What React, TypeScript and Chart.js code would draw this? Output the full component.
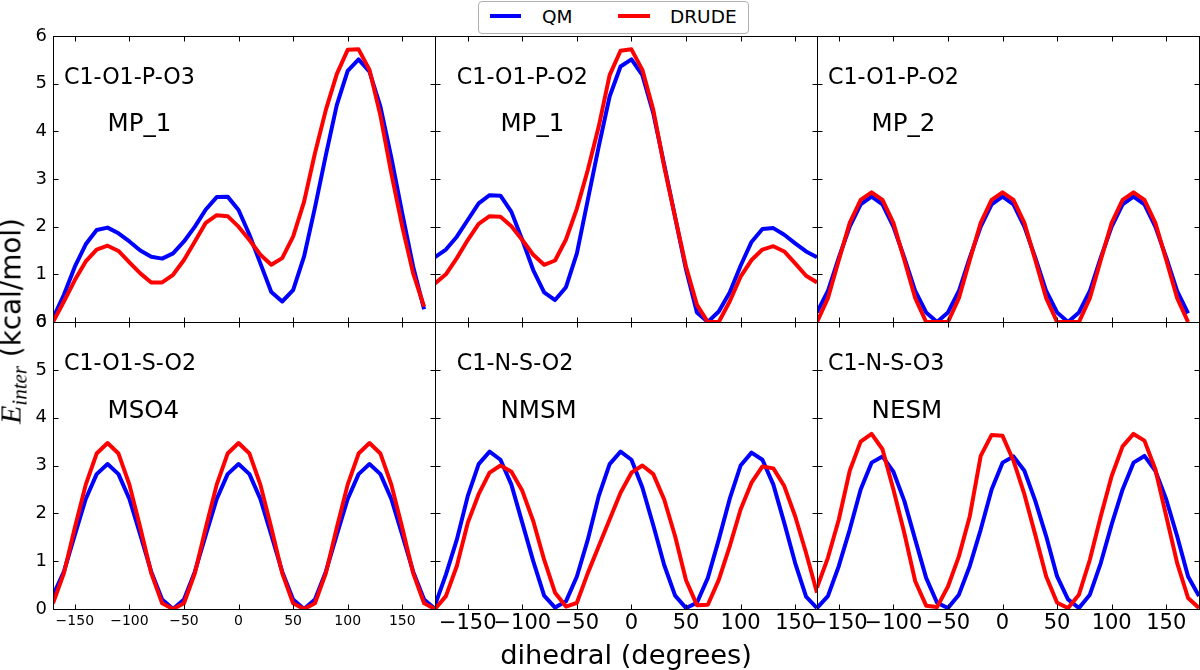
import React, { useEffect, useRef } from 'react';
import { Chart, registerables } from 'chart.js';

Chart.register(...registerables);

// ---------- data ----------
const anglesTo170 = [-170, -160, -150, -140, -130, -120, -110, -100, -90, -80, -70, -60, -50, -40, -30, -20, -10, 0, 10, 20, 30, 40, 50, 60, 70, 80, 90, 100, 110, 120, 130, 140, 150, 160, 170];
const anglesFromMinus180 = [-180, -170, -160, -150, -140, -130, -120, -110, -100, -90, -80, -70, -60, -50, -40, -30, -20, -10, 0, 10, 20, 30, 40, 50, 60, 70, 80, 90, 100, 110, 120, 130, 140, 150, 160, 170];
const anglesTo180 = [-170, -160, -150, -140, -130, -120, -110, -100, -90, -80, -70, -60, -50, -40, -30, -20, -10, 0, 10, 20, 30, 40, 50, 60, 70, 80, 90, 100, 110, 120, 130, 140, 150, 160, 170, 180];

const xTickValues = [-150, -100, -50, 0, 50, 100, 150];
const yTickValues = [0, 1, 2, 3, 4, 5, 6];

// C1-O1-P-O3, MP_1
const mp1O3QM = [0.08, 0.57, 1.16, 1.63, 1.93, 1.98, 1.86, 1.69, 1.5, 1.37, 1.33, 1.44, 1.69, 2.0, 2.36, 2.62, 2.63, 2.35, 1.83, 1.23, 0.63, 0.43, 0.67, 1.37, 2.4, 3.5, 4.55, 5.27, 5.51, 5.25, 4.52, 3.45, 2.28, 1.16, 0.27];
const mp1O3Drude = [0.0, 0.43, 0.88, 1.27, 1.52, 1.6, 1.49, 1.25, 1.02, 0.83, 0.83, 0.99, 1.3, 1.69, 2.08, 2.24, 2.22, 2.0, 1.72, 1.41, 1.2, 1.34, 1.79, 2.52, 3.54, 4.45, 5.2, 5.71, 5.72, 5.29, 4.33, 3.12, 2.0, 1.02, 0.32];

// C1-O1-P-O2, MP_1
const mp1O2QM = [1.36, 1.52, 1.79, 2.14, 2.49, 2.66, 2.65, 2.31, 1.72, 1.09, 0.62, 0.46, 0.73, 1.44, 2.56, 3.68, 4.73, 5.36, 5.51, 5.18, 4.38, 3.3, 2.2, 1.1, 0.2, 0.0, 0.22, 0.62, 1.18, 1.68, 1.95, 1.97, 1.83, 1.65, 1.48, 1.36];
const mp1O2Drude = [0.81, 1.0, 1.34, 1.72, 2.06, 2.22, 2.21, 2.01, 1.72, 1.41, 1.2, 1.29, 1.73, 2.38, 3.19, 4.1, 5.18, 5.69, 5.72, 5.29, 4.45, 3.26, 2.2, 1.16, 0.36, 0.0, 0.0, 0.43, 0.95, 1.3, 1.52, 1.59, 1.48, 1.23, 0.97, 0.83];

// C1-O1-P-O2, MP_2
const mp2QM = [0.2, 0.65, 1.35, 2.0, 2.47, 2.63, 2.47, 2.0, 1.35, 0.65, 0.2, 0.0, 0.2, 0.65, 1.35, 2.0, 2.47, 2.63, 2.47, 2.0, 1.35, 0.65, 0.2, 0.0, 0.2, 0.65, 1.35, 2.0, 2.47, 2.63, 2.47, 2.0, 1.35, 0.65, 0.18];
const mp2Drude = [0.0, 0.5, 1.3, 2.08, 2.56, 2.72, 2.56, 2.08, 1.3, 0.5, 0.0, 0.0, 0.0, 0.5, 1.3, 2.08, 2.56, 2.72, 2.56, 2.08, 1.3, 0.5, 0.0, 0.0, 0.0, 0.5, 1.3, 2.08, 2.56, 2.72, 2.56, 2.08, 1.3, 0.5, 0.0];

// C1-O1-S-O2, MSO4
const mso4QM = [0.28, 0.78, 1.55, 2.3, 2.82, 3.03, 2.82, 2.3, 1.55, 0.78, 0.2, 0.0, 0.2, 0.78, 1.55, 2.3, 2.82, 3.03, 2.82, 2.3, 1.55, 0.78, 0.2, 0.0, 0.2, 0.78, 1.55, 2.3, 2.82, 3.03, 2.82, 2.3, 1.55, 0.78, 0.2, 0.0];
const mso4Drude = [0.12, 0.75, 1.7, 2.6, 3.25, 3.47, 3.25, 2.6, 1.7, 0.75, 0.12, 0.0, 0.12, 0.75, 1.7, 2.6, 3.25, 3.47, 3.25, 2.6, 1.7, 0.75, 0.12, 0.0, 0.12, 0.75, 1.7, 2.6, 3.25, 3.47, 3.25, 2.6, 1.7, 0.75, 0.12, 0.0];

// C1-N-S-O2, NMSM
const nmsmQM = [0.08, 0.72, 1.45, 2.36, 3.03, 3.29, 3.12, 2.6, 1.8, 1.0, 0.28, 0.03, 0.16, 0.68, 1.45, 2.36, 3.03, 3.29, 3.12, 2.54, 1.75, 0.92, 0.28, 0.02, 0.13, 0.65, 1.45, 2.3, 3.0, 3.27, 3.12, 2.6, 1.8, 0.96, 0.26, 0.02];
const nmsmDrude = [0.0, 0.27, 0.9, 1.8, 2.4, 2.85, 3.0, 2.87, 2.47, 1.84, 1.03, 0.34, 0.05, 0.13, 0.75, 1.31, 1.87, 2.43, 2.85, 3.0, 2.82, 2.29, 1.52, 0.6, 0.08, 0.09, 0.61, 1.31, 2.08, 2.64, 2.98, 2.94, 2.57, 1.94, 1.17, 0.34];

// C1-N-S-O3, NESM
const nesmQM = [0.02, 0.27, 0.9, 1.66, 2.5, 3.06, 3.19, 2.87, 2.26, 1.45, 0.65, 0.13, 0.02, 0.3, 0.9, 1.66, 2.5, 3.06, 3.19, 2.89, 2.26, 1.52, 0.68, 0.2, 0.02, 0.3, 0.96, 1.77, 2.5, 3.06, 3.2, 2.89, 2.29, 1.52, 0.68, 0.27];
const nesmDrude = [0.45, 1.07, 1.87, 2.89, 3.5, 3.66, 3.34, 2.5, 1.59, 0.58, 0.07, 0.04, 0.47, 1.1, 1.94, 3.2, 3.64, 3.62, 3.1, 2.4, 1.55, 0.68, 0.13, 0.02, 0.3, 1.03, 1.94, 2.78, 3.4, 3.66, 3.52, 2.92, 1.94, 0.96, 0.23, 0.02];

const dihedralLabels = ['C1-O1-P-O3', 'C1-O1-P-O2', 'C1-O1-P-O2', 'C1-O1-S-O2', 'C1-N-S-O2', 'C1-N-S-O3'];
const moleculeLabels = ['MP_1', 'MP_1', 'MP_2', 'MSO4', 'NMSM', 'NESM'];
const seriesNames = ['QM', 'DRUDE'];

// ---------- layout ----------
const FIG_W = 1200;
const FIG_H = 670;
const COL_LEFT = [53, 435, 817];
const COL_W = 382;
const ROW_TOP = [36, 322];
const ROW_H = [286, 287];
const Y_AXIS_W = 53;
const X_AXIS_H = 45;
const BLUE = '#0000ff';
const RED = '#ff0000';

const panels = [
  { x: anglesTo170, qm: mp1O3QM, drude: mp1O3Drude, xMin: -170, xMax: 180, col: 0, row: 0 },
  { x: anglesFromMinus180, qm: mp1O2QM, drude: mp1O2Drude, xMin: -180, xMax: 170, col: 1, row: 0 },
  { x: anglesTo170, qm: mp2QM, drude: mp2Drude, xMin: -170, xMax: 180, col: 2, row: 0 },
  { x: anglesTo180, qm: mso4QM, drude: mso4Drude, xMin: -170, xMax: 180, col: 0, row: 1 },
  { x: anglesFromMinus180, qm: nmsmQM, drude: nmsmDrude, xMin: -180, xMax: 170, col: 1, row: 1 },
  { x: anglesTo180, qm: nesmQM, drude: nesmDrude, xMin: -170, xMax: 180, col: 2, row: 1 },
];

const fmtTick = (v: number) => (v < 0 ? '\u2212' + Math.abs(v) : String(v));

const decorPlugin = {
  id: 'panelDecor',
  afterDraw(chart: any, _args: any, opts: any) {
    const { ctx, chartArea: a, scales } = chart;
    const xs = scales.x;
    const ys = scales.y;
    ctx.save();
    ctx.strokeStyle = '#000';
    ctx.lineWidth = 1;
    const l = Math.round(a.left) + 0.5;
    const r = Math.round(a.right) + 0.5;
    const t = Math.round(a.top) + 0.5;
    const b = Math.round(a.bottom) + 0.5;
    ctx.strokeRect(l, t, r - l, b - t);
    ctx.beginPath();
    xTickValues.forEach((v) => {
      const px = Math.round(xs.getPixelForValue(v)) + 0.5;
      ctx.moveTo(px, b);
      ctx.lineTo(px, b - 5);
      ctx.moveTo(px, t);
      ctx.lineTo(px, t + 5);
    });
    yTickValues.forEach((v) => {
      const py = Math.round(ys.getPixelForValue(v)) + 0.5;
      ctx.moveTo(l, py);
      ctx.lineTo(l + 5, py);
      ctx.moveTo(r, py);
      ctx.lineTo(r - 5, py);
    });
    ctx.stroke();
    ctx.fillStyle = '#000';
    ctx.textAlign = 'left';
    ctx.textBaseline = 'alphabetic';
    ctx.font = '22.2px "DejaVu Sans"';
    ctx.fillText(opts.dihedral, xs.getPixelForValue(-160), ys.getPixelForValue(5));
    ctx.font = '24.5px "DejaVu Sans"';
    ctx.fillText(opts.molecule, xs.getPixelForValue(-120), ys.getPixelForValue(4));
    ctx.restore();
  },
};

function makeConfig(i: number): any {
  const p = panels[i];
  const left = COL_LEFT[p.col];
  const top = ROW_TOP[p.row];
  const h = ROW_H[p.row];
  const showX = p.row === 1;
  const showY = p.col === 0;
  const yW = showY ? Y_AXIS_W : 0;
  const xH = showX ? X_AXIS_H : 0;
  const xFont = p.col === 0 ? 14 : 21;
  return {
    type: 'line',
    data: {
      datasets: [
        {
          label: seriesNames[1],
          data: p.x.map((x, k) => ({ x, y: p.drude[k] })),
          borderColor: RED,
          backgroundColor: RED,
          borderWidth: 4,
          pointRadius: 0,
          tension: 0,
          fill: false,
          clip: 0,
          order: 1,
          borderJoinStyle: 'round',
        },
        {
          label: seriesNames[0],
          data: p.x.map((x, k) => ({ x, y: p.qm[k] })),
          borderColor: BLUE,
          backgroundColor: BLUE,
          borderWidth: 4,
          pointRadius: 0,
          tension: 0,
          fill: false,
          clip: 0,
          order: 2,
          borderJoinStyle: 'round',
        },
      ],
    },
    options: {
      responsive: false,
      animation: false,
      events: [],
      layout: {
        padding: { left: left - yW, top, right: FIG_W - left - COL_W, bottom: FIG_H - top - h - xH },
      },
      plugins: {
        legend: { display: false },
        tooltip: { enabled: false },
        panelDecor: { dihedral: dihedralLabels[i], molecule: moleculeLabels[i] },
      },
      scales: {
        x: {
          type: 'linear',
          min: p.xMin,
          max: p.xMax,
          afterFit: (s: any) => { s.height = xH; },
          afterBuildTicks: (s: any) => { s.ticks = xTickValues.map((v) => ({ value: v })); },
          grid: { display: false, drawTicks: false },
          border: { display: false },
          ticks: {
            display: showX,
            autoSkip: false,
            maxRotation: 0,
            minRotation: 0,
            padding: p.col === 0 ? 4 : 2,
            color: '#000',
            font: { family: '"DejaVu Sans"', size: xFont },
            callback: (v: number) => fmtTick(v),
          },
        },
        y: {
          type: 'linear',
          min: 0,
          max: 6,
          afterFit: (s: any) => { s.width = yW; },
          afterBuildTicks: (s: any) => { s.ticks = yTickValues.map((v) => ({ value: v })); },
          grid: { display: false, drawTicks: false },
          border: { display: false },
          ticks: {
            display: showY,
            autoSkip: false,
            padding: 6,
            color: '#000',
            font: { family: '"DejaVu Sans"', size: 18 },
            callback: (v: number) => fmtTick(v),
          },
        },
      },
    },
    plugins: [decorPlugin],
  };
}

export default function App() {
  const refs = useRef<(HTMLCanvasElement | null)[]>([]);

  useEffect(() => {
    const charts = panels.map((_, i) => new Chart(refs.current[i] as HTMLCanvasElement, makeConfig(i)));
    return () => charts.forEach((c) => c.destroy());
  }, []);

  const font = '"DejaVu Sans", sans-serif';

  return (
    <div style={{ position: 'absolute', left: 0, top: 0, width: FIG_W, height: FIG_H, background: '#fff', overflow: 'hidden', fontFamily: font, color: '#000' }}>
      {panels.map((_, i) => (
        <canvas
          key={i}
          ref={(el) => { refs.current[i] = el; }}
          width={FIG_W}
          height={FIG_H}
          style={{ position: 'absolute', left: 0, top: 0, width: FIG_W, height: FIG_H }}
        />
      ))}

      {/* legend */}
      <div style={{ position: 'absolute', left: 478, top: 1, width: 271, height: 33, boxSizing: 'border-box', border: '1px solid #b0b0b0', borderRadius: 4, background: '#fff' }} />
      <div style={{ position: 'absolute', left: 490, top: 14, width: 31, height: 4, background: BLUE }} />
      <div style={{ position: 'absolute', left: 542, top: 6, fontSize: 18.5, lineHeight: 'normal', whiteSpace: 'nowrap' }}>{seriesNames[0]}</div>
      <div style={{ position: 'absolute', left: 618, top: 14, width: 32, height: 4, background: RED }} />
      <div style={{ position: 'absolute', left: 670, top: 6, fontSize: 18.5, lineHeight: 'normal', whiteSpace: 'nowrap' }}>{seriesNames[1]}</div>

      {/* y axis title */}
      <div
        style={{
          position: 'absolute',
          left: 12,
          top: 321,
          transform: 'translate(-50%, -50%) rotate(-90deg)',
          whiteSpace: 'nowrap',
          fontSize: 27.8,
          lineHeight: '32px',
        }}
      >
        <span style={{ fontFamily: '"Liberation Serif", serif', fontStyle: 'italic', fontSize: 30 }}>E</span>
        <span style={{ fontFamily: '"Liberation Serif", serif', fontStyle: 'italic', fontSize: 21, position: 'relative', top: 6 }}>inter</span>
        <span>{' (kcal/mol)'}</span>
      </div>

      {/* x axis title */}
      <div style={{ position: 'absolute', left: 626, top: 639, transform: 'translateX(-50%)', whiteSpace: 'nowrap', fontSize: 27.3, lineHeight: 'normal' }}>
        dihedral (degrees)
      </div>
    </div>
  );
}
